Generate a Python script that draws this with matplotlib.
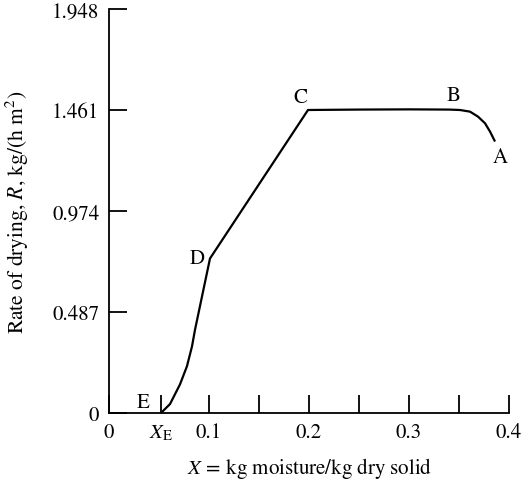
import matplotlib
matplotlib.use("Agg")
import matplotlib.pyplot as plt
import numpy as np

plt.rcParams["font.family"] = ["STIXGeneral", "Liberation Serif", "DejaVu Serif"]
plt.rcParams["mathtext.fontset"] = "stix"

# drying-rate curve, from E up through D, C, B to A
x_moist = [0.052, 0.061, 0.071, 0.078, 0.083, 0.086, 0.101, 0.199,
           0.25, 0.30, 0.340, 0.351, 0.361, 0.369, 0.376, 0.381, 0.386]
rate = [0.0, 0.043, 0.138, 0.226, 0.321, 0.401, 0.745, 1.461,
        1.463, 1.464, 1.463, 1.461, 1.453, 1.429, 1.397, 1.357, 1.309]

# point labels
pt_names = ["A", "B", "C", "D", "E"]
pt_x = [0.391, 0.345, 0.191, 0.088, 0.034]
pt_y = [1.234, 1.533, 1.523, 0.745, 0.053]

y_ticks = [0, 0.487, 0.974, 1.461, 1.948]
x_major = [0, 0.052, 0.1, 0.2, 0.3, 0.4]
x_major_labels = ["0", r"$X_{\mathrm{E}}$", "0.1", "0.2", "0.3", "0.4"]
x_minor = [0.15, 0.25, 0.35]

fig = plt.figure(figsize=(5.26, 4.85), dpi=100)
ax = fig.add_axes([0.2072, 0.1464, 0.7605, 0.8330])

ax.plot(x_moist, rate, color="black", lw=1.6, solid_capstyle="butt")

for name, px, py in zip(pt_names, pt_x, pt_y):
    ax.text(px, py, name, fontsize=15, ha="center", va="center")

ax.set_xlim(0, 0.4)
ax.set_ylim(0, 1.948)
ax.spines["top"].set_visible(False)
ax.spines["right"].set_visible(False)
for s in ["left", "bottom"]:
    ax.spines[s].set_linewidth(1.3)

ax.set_yticks(y_ticks)
ax.set_yticklabels(["0", "0.487", "0.974", "1.461", "1.948"])
ax.set_xticks(x_major)
ax.set_xticklabels(x_major_labels)
ax.set_xticks(x_minor, minor=True)

ax.tick_params(axis="both", which="both", direction="in", length=13,
               width=1.3, labelsize=15, pad=7)

ax.set_ylabel(r"Rate of drying, $R$, kg/(h m$^2$)", fontsize=15.5)
ax.yaxis.set_label_coords(-0.195, 0.5)
ax.set_xlabel(r"$X\,{=}\,$kg moisture/kg dry solid", fontsize=15)
ax.xaxis.set_label_coords(0.5025, -0.105)

fig.savefig("out.png", dpi=100)
